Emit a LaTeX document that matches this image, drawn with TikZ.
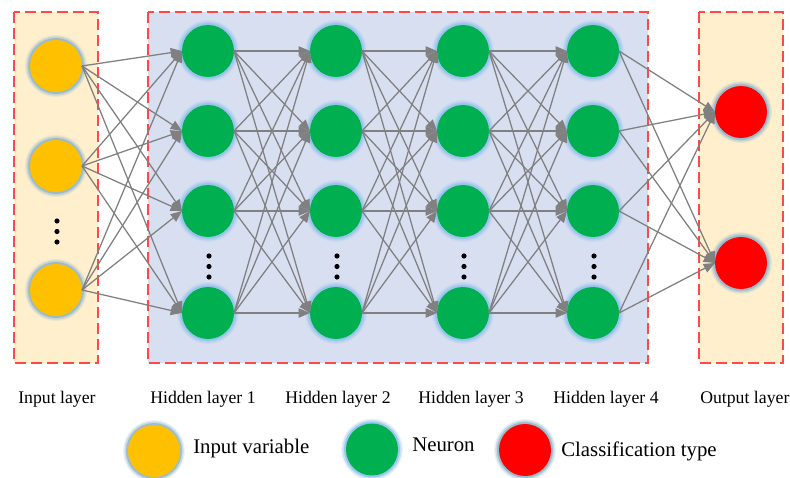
\documentclass[tikz,border=0pt]{standalone}
\usepackage{fontspec}
\setmainfont{Liberation Serif}
\usetikzlibrary{arrows.meta}

\definecolor{inyellow}{RGB}{255,192,0}
\definecolor{neurongreen}{RGB}{0,176,80}
\definecolor{outred}{RGB}{255,0,0}
\definecolor{haloblue}{RGB}{150,196,236}
\definecolor{halogrey}{RGB}{150,186,204}
\definecolor{panelcream}{RGB}{255,239,205}
\definecolor{panelblue}{RGB}{216,223,241}
\definecolor{frame}{RGB}{255,72,72}
\definecolor{linkgrey}{RGB}{128,128,128}

\tikzset{
  unit/.style={circle, inner sep=0pt, outer sep=0pt, minimum size=39pt},
  halo/.style={preaction={draw=#1, draw opacity=.18, line width=7.5pt},
               preaction={draw=#1, draw opacity=.4, line width=5.5pt},
               preaction={draw=#1, draw opacity=.9, line width=3pt}},
  innode/.style={unit, fill=inyellow, halo=halogrey},
  hidnode/.style={unit, fill=neurongreen, halo=haloblue},
  outnode/.style={unit, fill=outred, halo=halogrey},
  panel/.style={draw=frame, line width=1.1pt, dash pattern=on 8.25pt off 3.75pt},
  link/.style={draw=linkgrey, line width=0.95pt,
               -{Triangle[length=8.5pt,width=7pt]}},
  layername/.style={anchor=base west, inner sep=0pt, font=\fontsize{13.3pt}{15pt}\selectfont},
  keytext/.style={anchor=base west, inner sep=0pt, font=\fontsize{15.6pt}{18pt}\selectfont},
}

\begin{document}
\begin{tikzpicture}[x=0.75pt, y=-0.75pt]
  \useasboundingbox (0,0) rectangle (790,478);

  % layer panels
  \draw[panel, fill=panelcream] (14,12) rectangle (98,363);
  \draw[panel, fill=panelblue] (148,12) rectangle (648,363);
  \draw[panel, fill=panelcream] (699,12) rectangle (783,363);

  % input layer
  \node[innode] (in-1) at (56,66) {};
  \node[innode] (in-2) at (56,166) {};
  \node[innode] (in-3) at (56,290) {};

  % hidden layers
  \foreach \k/\x in {1/208,2/336,3/463,4/593}{
    \node[hidnode] (h\k-1) at (\x,51) {};
    \node[hidnode] (h\k-2) at (\x,131) {};
    \node[hidnode] (h\k-3) at (\x,211) {};
    \node[hidnode] (h\k-4) at (\x,313) {};
    \foreach \y in {256,266.5,277} \fill (\x+1,\y) circle (2.6);
  }

  % output layer
  \node[outnode] (out-1) at (741,112) {};
  \node[outnode] (out-2) at (741,263) {};

  % ellipsis in the input column
  \foreach \y in {221,231.5,242} \fill (57,\y) circle (2.6);

  % connections
  \foreach \i in {1,2,3}
    \foreach \j in {1,...,4}
      \draw[link] (in-\i.east) -- (h1-\j.west);
  \foreach \a/\b in {h1/h2,h2/h3,h3/h4}
    \foreach \i in {1,...,4}
      \foreach \j in {1,...,4}
        \draw[link] (\a-\i.east) -- (\b-\j.west);
  \foreach \i in {1,...,4}
    \foreach \j in {1,2}
      \draw[link] (h4-\i.east) -- (out-\j.west);

  % layer names
  \node[layername] (lab-in) at (18,403) {Input layer};
  \node[layername] (lab-h1) at (150,403) {Hidden layer 1};
  \node[layername] (lab-h2) at (285,403) {Hidden layer 2};
  \node[layername] (lab-h3) at (418,403) {Hidden layer 3};
  \node[layername] (lab-h4) at (553,403) {Hidden layer 4};
  \node[layername] (lab-out) at (700,403) {Output layer};

  % key
  \node[innode] (key-in) at (154,451) {};
  \node[keytext] (key-in-t) at (193,453) {Input variable};
  \node[hidnode] (key-hid) at (372,449.5) {};
  \node[keytext] (key-hid-t) at (412,451) {Neuron};
  \node[outnode] (key-out) at (525,450) {};
  \node[keytext] (key-out-t) at (561,456) {Classification type};
\end{tikzpicture}
\end{document}
